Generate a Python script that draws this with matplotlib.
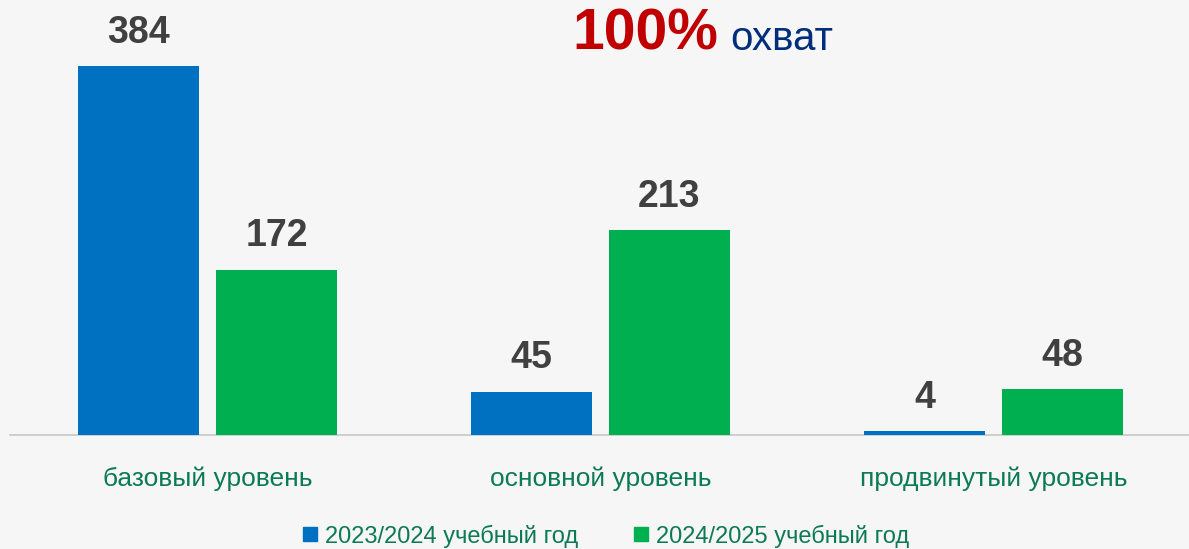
import matplotlib.pyplot as plt
import numpy as np
from matplotlib.lines import Line2D

categories = ["базовый уровень", "основной уровень", "продвинутый уровень"]
series_names = ["2023/2024 учебный год", "2024/2025 учебный год"]
values_2023 = [384, 45, 4]
values_2024 = [172, 213, 48]

blue = "#0070C0"
green = "#00B050"
text_green = "#0B7A55"
label_gray = "#404040"
bg = "#F6F6F6"

plt.rcParams['font.family'] = ['Liberation Sans Narrow', 'DejaVu Sans Condensed', 'Liberation Sans', 'DejaVu Sans']

fig = plt.figure(figsize=(11.89, 5.49), dpi=100, facecolor=bg)
ax = fig.add_axes([10 / 1189, 114 / 549, 1179 / 1189, 435 / 549])
ax.set_facecolor(bg)

x = np.arange(len(categories))
width = 0.308
off = 0.1756
b1 = ax.bar(x - off, values_2023, width, color=blue, zorder=3)
b2 = ax.bar(x + off, values_2024, width, color=green, zorder=3)

for bars in (b1, b2):
    for rect in bars:
        h = rect.get_height()
        ax.annotate(f"{int(h)}", (rect.get_x() + rect.get_width() / 2, h),
                    xytext=(0, 11), textcoords="offset points", ha="center", va="bottom",
                    fontsize=27, fontweight="bold", color=label_gray)

ax.set_xlim(-0.5025, 2.4975)
ax.set_ylim(0, 452.6)
for s in ("top", "right", "left"):
    ax.spines[s].set_visible(False)
ax.spines["bottom"].set_color("#C8C8C8")
ax.spines["bottom"].set_linewidth(1.2)
ax.set_yticks([])
ax.set_xticks(x)
ax.set_xticklabels(categories, fontsize=19, color=text_green)
ax.tick_params(axis="x", length=0, pad=23)

# title
fig.text(718 / 1189, 1 - 50 / 549, "100%", ha="right", va="baseline",
         fontsize=41, fontweight="bold", color="#C00000")
fig.text(730 / 1189, 1 - 50 / 549, "охват", ha="left", va="baseline",
         fontsize=29, color="#002E7A")

handles = [Line2D([], [], marker="s", linestyle="none", markersize=10, color=blue),
           Line2D([], [], marker="s", linestyle="none", markersize=10, color=green)]
leg = fig.legend(handles, series_names, loc="center", bbox_to_anchor=(606 / 1189, 1 - 536 / 549),
                 ncol=2, frameon=False, fontsize=17, handlelength=0.6, handletextpad=0.3,
                 columnspacing=2.4, borderpad=0)
for t in leg.get_texts():
    t.set_color(text_green)

fig.savefig("out.png", dpi=100, facecolor=bg)
